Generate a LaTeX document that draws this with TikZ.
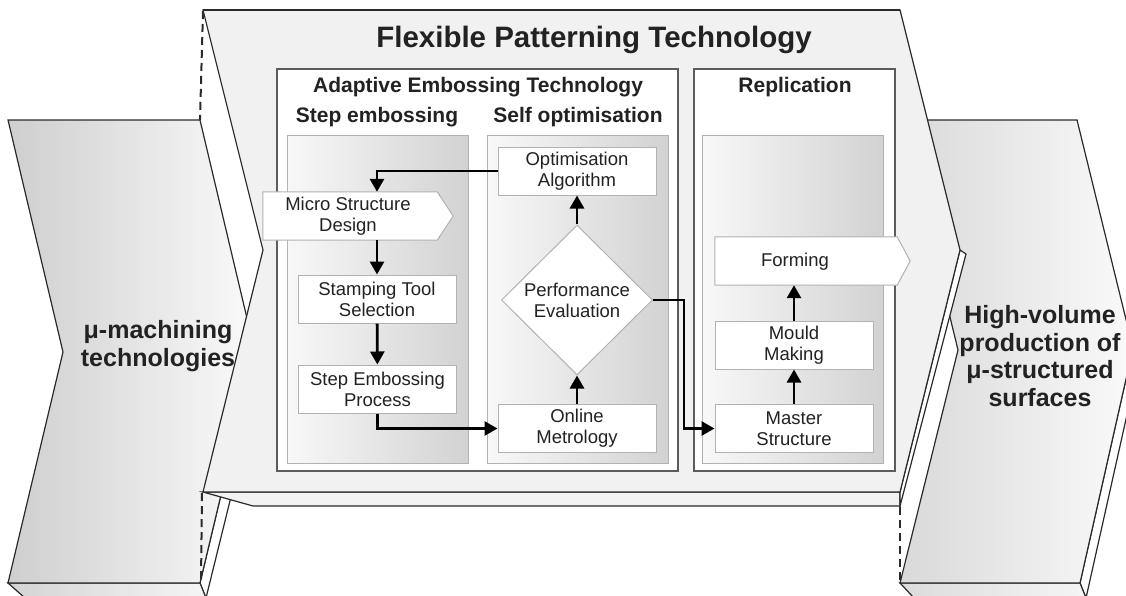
\documentclass[tikz,border=0pt]{standalone}
\usepackage{fontspec}
\setmainfont{Liberation Sans}
\usetikzlibrary{arrows.meta,shapes.geometric,calc}

\definecolor{edge}{HTML}{2A2A2A}
\definecolor{face}{HTML}{F1F1F1}
\definecolor{boxedge}{HTML}{5C5C5C}
\definecolor{nodeedge}{HTML}{B2B2B2}
\definecolor{panelL}{HTML}{F8F8F8}
\definecolor{panelR}{HTML}{D2D2D2}
\definecolor{ink}{HTML}{222222}

\tikzset{
  slab/.style={draw=edge, line width=1.2pt, line join=miter},
  hidden/.style={draw=edge, line width=2pt, dash pattern=on 8pt off 5pt},
  groupbox/.style={draw=boxedge, line width=1.6pt, fill=white, inner sep=0pt, anchor=north west},
  panel/.style={draw=nodeedge, line width=1pt, left color=panelL, right color=panelR,
    inner sep=0pt, anchor=north west, minimum width=181pt, minimum height=328pt},
  stepbox/.style={draw=nodeedge, line width=1pt, fill=white, minimum width=158pt, text=ink,
    minimum height=48pt, inner sep=0pt, align=center, font=\fontsize{18.5}{21}\selectfont},
  anchorbox/.style={draw=none, inner sep=0pt, minimum height=48pt},
  pentagon/.style={draw=nodeedge, line width=1pt, fill=white, line join=miter},
  steptext/.style={align=center, inner sep=0pt, text=ink, font=\fontsize{18.5}{21}\selectfont},
  decision/.style={diamond, draw=nodeedge, line width=1pt, fill=white, inner sep=0pt, text=ink,
    minimum width=151pt, minimum height=150pt, align=center, font=\fontsize{18.5}{21}\selectfont},
  flow/.style={draw=black, line width=2.8pt, -{Triangle[length=13pt,width=14pt]}},
  head/.style={font=\bfseries\fontsize{21}{24}\selectfont, inner sep=0pt, text=ink},
  sidetext/.style={font=\bfseries\fontsize{25}{27.5}\selectfont, align=center, inner sep=0pt, text=ink},
}

\begin{document}
\begin{tikzpicture}[x=1pt,y=-1pt]
\useasboundingbox (0,0) rectangle (1126,595);
\clip (0,0) rectangle (1126,595);

% ---- left slab: mu-machining ----
\path[slab, fill=white] (255,352) -- (200,583) -- (206,598) -- (266,355) -- cycle;
\path[slab, left color=black!17, right color=black!4] (8,583) -- (200,583) -- (206,598) -- (25,598) -- cycle;
\path[slab, left color=black!19, right color=black!2]
  (8,120) -- (200,120) -- (255,352) -- (200,583) -- (8,583) -- (63,352) -- cycle;

% ---- right slab: high-volume production ----
\path[slab, fill=white] (1133,348) -- (1080,583) -- (1086,598) -- (1141,352) -- cycle;
\path[slab, left color=black!14, right color=black!4] (900,583) -- (1080,583) -- (1086,598) -- (914,598) -- cycle;
\path[slab, left color=black!15, right color=black!2]
  (902,120) -- (1077,120) -- (1133,348) -- (1080,583) -- (900,583) -- (958,350) -- cycle;

% ---- central slab: flexible patterning ----
\path[slab, fill=black!5] (203,492) -- (900,492) -- (900,506) -- (253,506) -- cycle;
\path[slab, fill=white] (960,250) -- (900,492) -- (900,506) -- (966,254) -- cycle;
\path[slab, fill=face]
  (203,10) -- (900,10) -- (960,250) -- (900,492) -- (203,492) -- (263,250) -- cycle;
\draw[edge, line width=1.8pt] (203,10) -- (900,10);

% hidden edges
\draw[hidden] (203,11) -- (200,120);
\draw[hidden] (202,493) -- (201,582);
\draw[hidden] (900,507) -- (900,582);

\node (title) [text=ink] at (594,40) {\bfseries\fontsize{29.5}{32}\selectfont Flexible Patterning Technology};

% ---- group boxes and panels ----
\node (aet) [groupbox, minimum width=401pt, minimum height=402pt] at (276,68) {};
\node (rep) [groupbox, minimum width=201pt, minimum height=402pt] at (693,68) {};
\node (sepanel) [panel] at (287,135) {};
\node (sopanel) [panel] at (487,135) {};
\node (rppanel) [panel] at (702,135) {};

\node (aethead) [head] at (478,87) {Adaptive Embossing Technology};
\node (sehead) [head] at (377,117) {Step embossing};
\node (sohead) [head] at (578,117) {Self optimisation};
\node (rephead) [head] at (795,87) {Replication};

% ---- step embossing column ----
\node (msd) [anchorbox, minimum width=174pt] at (350,216) {};
\path[pentagon] (msd.north west) -- (msd.north east) -- ($(msd.east)+(16,0)$)
  -- (msd.south east) -- (msd.south west) -- cycle;
\node (msdtext) [steptext] at (348,216) {Micro Structure\\Design};
\node (stl) [stepbox] at (377,299) {Stamping Tool\\Selection};
\node (sep) [stepbox] at (377.5,389) {Step Embossing\\Process};

% ---- self optimisation column ----
\node (oa) [stepbox] at (577,171) {Optimisation\\Algorithm};
\node (pe) [decision] at (577,300) {Performance\\Evaluation};
\node (om) [stepbox] at (577,428.5) {Online\\Metrology};

% ---- replication column ----
\node (fo) [anchorbox, minimum width=182pt] at (806,261) {};
\path[pentagon] (fo.north west) -- (fo.north east) -- ($(fo.east)+(13,0)$)
  -- (fo.south east) -- (fo.south west) -- cycle;
\node (fotext) [steptext] at (795,262) {Forming};
\node (mm) [stepbox] at (794,345) {Mould\\Making};
\node (ms) [stepbox] at (794,428.5) {Master\\Structure};

% ---- flow ----
\coordinate (bend) at (684,300);
\draw[flow] (oa.west) -| (msd.north -| stl.north);
\draw[flow] (msd.south -| stl.north) -- (stl.north);
\draw[flow] (stl) -- (sep);
\draw[flow] (sep.south) |- (om.west);
\draw[flow] (om) -- (pe);
\draw[flow] (pe) -- (oa);
\draw[flow] (pe.east) -- (pe.east -| bend) |- (ms.west);
\draw[flow] (ms) -- (mm);
\draw[flow] (mm) -- (fo.south -| mm.north);

% ---- side labels ----
\node (mach) [sidetext] at (158,346) {μ-machining\\technologies};
\node (hvp) [sidetext] at (1040,356) {High-volume\\production of\\μ-structured\\surfaces};
\end{tikzpicture}
\end{document}
